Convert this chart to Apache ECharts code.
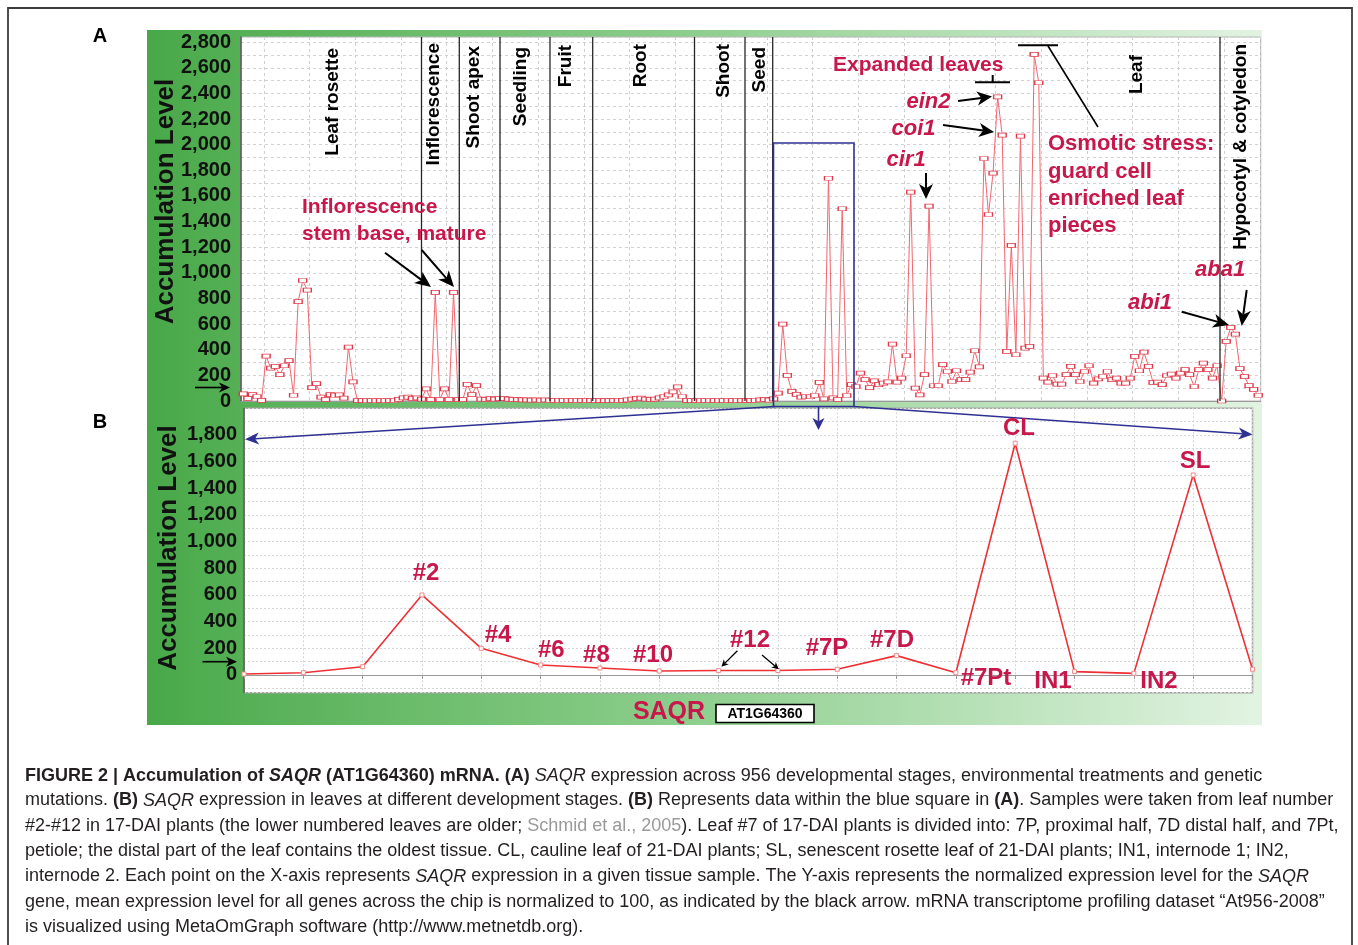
<!DOCTYPE html>
<html><head><meta charset="utf-8">
<script src="https://cdn.jsdelivr.net/npm/echarts@6/dist/echarts.min.js"></script>
<style>html,body{margin:0;padding:0;background:#fff;}#c{width:1358px;height:945px;}</style>
</head><body><div id="c"></div>
<script>
// ---- Panel A: expression across tissue samples ----
const levelsA = [
 55,20,50,35,5,350,256,270,205,275,315,45,775,940,865,105,135,30,12,50,
 45,48,22,420,150,3,3,2,3,2,3,2,3,4,12,25,30,20,25,15,
 95,12,848,10,95,12,848,10,10,130,50,120,15,12,18,15,18,20,15,12,
 10,8,8,7,8,6,8,6,5,4,5,4,5,4,5,4,5,3,3,3,
 3,3,4,5,8,15,20,22,15,12,15,25,35,48,72,110,35,5,3,3,
 4,3,4,3,4,3,4,3,4,3,5,5,6,8,12,7,17,62,600,200,
 75,52,30,33,33,43,145,17,1738,25,12,1500,43,127,113,217,166,105,157,127,
 139,150,444,147,178,353,1629,100,48,205,1520,119,119,283,230,152,236,166,166,225,
 392,267,1892,1455,1778,2373,2075,387,1215,361,2066,412,426,2705,2483,178,147,199,131,131,
 205,270,205,152,230,275,139,173,191,230,166,178,139,139,178,348,236,381,270,145,
 147,127,199,209,178,217,244,205,113,244,295,244,178,275,0,465,574,522,252,190,
 120,90,45
];
const samplesA = levelsA.map((_, i) => 'S' + (i + 1));
const tissueGroups = ['Leaf rosette','Inflorescence','Shoot apex','Seedling','Fruit','Root','Shoot','Seed','Leaf','Hypocotyl & cotyledon'];
const yTicksA = [0,200,400,600,800,1000,1200,1400,1600,1800,2000,2200,2400,2600,2800];

// ---- Panel B: leaves inside the blue square ----
const samplesB = ['s1','s2','s3','#2','#4','#6','#8','#10','#12a','#12b','#7P','#7D','#7Pt','CL','IN1','IN2','SL','s18'];
const levelsB = [7,17,62,600,200,75,52,30,33,33,43,145,17,1738,25,12,1500,43];
const yTicksB = [0,200,400,600,800,1000,1200,1400,1600,1800];

const FF = '"Liberation Sans", Arial, Helvetica, sans-serif';
const RED = '#c8174a';
const BLUE = '#2e3192';

function txt(x, y, text, font, fill, align, extra) {
  return Object.assign({type:'text', x:x, y:y, z:100, silent:true,
    style:{text:text, font:font, fill:fill||'#000', align:align||'left', verticalAlign:'middle'}}, extra||{});
}
function seg(x1,y1,x2,y2,color,w){
  return {type:'line', z:100, silent:true, shape:{x1:x1,y1:y1,x2:x2,y2:y2}, style:{stroke:color, lineWidth:w}};
}
function arrow(x1,y1,x2,y2,color,w,hl,hw){
  const dx=x2-x1, dy=y2-y1, L=Math.hypot(dx,dy), ux=dx/L, uy=dy/L;
  const bx=x2-ux*hl, by=y2-uy*hl, px=-uy, py=ux;
  const nx=x2-ux*hl*0.72, ny=y2-uy*hl*0.72;
  return [
    seg(x1,y1,nx,ny,color,w),
    {type:'polygon', z:100, silent:true, shape:{points:[[x2,y2],[bx+px*hw,by+py*hw],[nx,ny],[bx-px*hw,by-py*hw]]}, style:{fill:color}}
  ];
}

const els = [];
// page frame
els.push({type:'rect', z:-20, silent:true, shape:{x:8,y:8,width:1344,height:945}, style:{fill:'#fff', stroke:'#3c3c3c', lineWidth:1.8}});
// green backdrop
els.push({type:'rect', z:-10, silent:true, shape:{x:147,y:30,width:1115,height:695},
  style:{fill:new echarts.graphic.LinearGradient(0,0,1,0,[{offset:0,color:'#48a848'},{offset:0.1,color:'#58b158'},{offset:0.5,color:'#8fcf8f'},{offset:1,color:'#e2f3e2'}])}});
// panel letters
els.push(txt(100,36,'A','bold 20px '+FF,'#000','center'));
els.push(txt(100,422,'B','bold 20px '+FF,'#000','center'));
// y axis titles
els.push(txt(166,201.5,'Accumulation Level','bold 26px '+FF,'#111','center',{rotation:Math.PI/2}));
els.push(txt(168.5,548,'Accumulation Level','bold 26px '+FF,'#111','center',{rotation:Math.PI/2}));
// tissue dividers
[421.5,459.3,500,550,592.7,694.5,745,772.7,1220].forEach(x=>els.push(seg(x,37,x,401,'#262626',1.3)));
// tissue labels (rotated)
const groupPos = [[332.5,48],[434,43],[474,46],[520.5,47],[566,45],[641,44],[723.5,44],[759.5,47],[1137,55],[1241,44]];
tissueGroups.forEach((g,i)=>els.push(txt(groupPos[i][0],groupPos[i][1],g,'bold 19px '+FF,'#000','right',{rotation:Math.PI/2})));
// panel A annotations
const fA = 'bold 21px '+FF, fI = 'italic bold 22px '+FF;
els.push(txt(302,207.7,'Inflorescence',fA,RED));
els.push(txt(302,234.3,'stem base, mature',fA,RED));
els.push(txt(833,65,'Expanded leaves',fA,RED));
els.push(txt(906.5,102,'ein2',fI,RED));
els.push(txt(891.5,129,'coi1',fI,RED));
els.push(txt(886.5,160,'cir1',fI,RED));
els.push(txt(1048,143.5,'Osmotic stress:','bold 22px '+FF,RED));
els.push(txt(1048,171.5,'guard cell','bold 22px '+FF,RED));
els.push(txt(1048,198.5,'enriched leaf','bold 22px '+FF,RED));
els.push(txt(1048,225.5,'pieces','bold 22px '+FF,RED));
els.push(txt(1195,270,'aba1',fI,RED));
els.push(txt(1128,302.5,'abi1',fI,RED));
els.push(...arrow(385,252.7,431,287,'#000',2,16,7));
els.push(...arrow(421.7,250,454,287,'#000',2,16,7));
els.push(...arrow(958,101,992,96.5,'#000',2,15,7));
els.push(...arrow(943,125,994,132,'#000',2,15,7));
els.push(...arrow(926,173,926,199,'#000',2,15,7));
els.push(...arrow(1181.7,311.7,1229,325,'#000',2,16,7));
els.push(...arrow(1246.7,290,1241.7,326,'#000',2,16,7));
els.push(seg(975,82.3,1010,82.3,'#000',2));
els.push(seg(992.7,75,992.7,82.3,'#000',2));
els.push(seg(1018,45.3,1058,45.3,'#000',2));
els.push(seg(1048,46,1098,127,'#000',1.6));
// mean-level arrows (value 100)
els.push(...arrow(195,387.5,230,387.5,'#000',1.6,11,5));
els.push(...arrow(202.5,661.7,237,661.7,'#000',1.6,11,5));
// blue square and connectors
els.push({type:'rect', z:100, silent:true, shape:{x:773.5,y:143,width:80.5,height:263.5}, style:{fill:null, stroke:BLUE, lineWidth:1.6}});
els.push(...arrow(775,406.5,245,439.3,BLUE,1.6,14,6));
els.push(...arrow(854,406.5,1252.5,434.5,BLUE,1.6,14,6));
els.push(...arrow(818.5,406.5,818.5,430,BLUE,1.6,12,6));
// panel B annotations
const fB = 'bold 24px '+FF;
[['#2',426,573.3],['#4',498,635],['#6',551.3,650.7],['#8',596.4,655],['#10',653,655],['#12',750,640],
 ['#7P',827,648.3],['#7D',892,640],['CL',1019,428.3],['SL',1195,461],['#7Pt',986,678.3],['IN1',1053,681.7],['IN2',1159,681.7]]
 .forEach(a=>els.push(txt(a[1],a[2],a[0],fB,RED,'center')));
els.push(...arrow(737.4,650.7,721.4,666.7,'#000',1.3,7,3.5));
els.push(...arrow(762,655,778.8,669.3,'#000',1.3,7,3.5));
// x-axis title panel B
els.push(txt(669,712,'SAQR','bold 25px '+FF,RED,'center'));
els.push({type:'rect', z:100, silent:true, shape:{x:716,y:704.5,width:98,height:18}, style:{fill:'#fff', stroke:'#000', lineWidth:1.6}});
els.push(txt(765,714,'AT1G64360','bold 14px '+FF,'#000','center'));
// caption
const cf = 18;
const rich = {
  n:{fontSize:cf, fontFamily:FF, fill:'#231f20'},
  b:{fontSize:cf, fontFamily:FF, fontWeight:'bold', fill:'#231f20'},
  bi:{fontSize:cf, fontFamily:FF, fontWeight:'bold', fontStyle:'italic', fill:'#231f20'},
  i:{fontSize:cf, fontFamily:FF, fontStyle:'italic', fill:'#231f20'},
  g:{fontSize:cf, fontFamily:FF, fill:'#9a9a9a'}
};
const captionLines = [
 '{b|FIGURE 2 | Accumulation of }{bi|SAQR}{b| (AT1G64360) mRNA. (A) }{i|SAQR}{n| expression across 956 developmental stages, environmental treatments and genetic}',
 '{n|mutations. }{b|(B) }{i|SAQR}{n| expression in leaves at different development stages. }{b|(B)}{n| Represents data within the blue square in }{b|(A)}{n|. Samples were taken from leaf number}',
 '{n|#2-#12 in 17-DAI plants (the lower numbered leaves are older; }{g|Schmid et al., 2005}{n|). Leaf #7 of 17-DAI plants is divided into: 7P, proximal half, 7D distal half, and 7Pt,}',
 '{n|petiole; the distal part of the leaf contains the oldest tissue. CL, cauline leaf of 21-DAI plants; SL, senescent rosette leaf of 21-DAI plants; IN1, internode 1; IN2,}',
 '{n|internode 2. Each point on the X-axis represents }{i|SAQR}{n| expression in a given tissue sample. The Y-axis represents the normalized expression level for the }{i|SAQR}',
 '{n|gene, mean expression level for all genes across the chip is normalized to 100, as indicated by the black arrow. mRNA transcriptome profiling dataset \u201cAt956-2008\u201d}',
 '{n|is visualized using MetaOmGraph software (http://www.metnetdb.org).}'
];
const capY = [775.7,800.5,825.7,851,876.5,901.7,926.7];
captionLines.forEach((l,k)=>els.push({type:'text', x:25, y:capY[k], z:100, silent:true,
  style:{text:l, rich:rich, fontSize:cf, fontFamily:FF, fill:'#231f20', align:'left', verticalAlign:'middle'}}));

const axisFont = {fontSize:20, fontWeight:'bold', color:'#111', fontFamily:FF};
const chart = echarts.init(document.getElementById('c'), null, {renderer:'canvas', width:1358, height:945});
chart.setOption({
  animation:false,
  backgroundColor:'#fff',
  grid:[
    {left:241, top:37, width:1019.5, height:364, show:true, backgroundColor:'#fff', borderColor:'#b8b8b8', borderWidth:1},
    {left:244, top:408.3, width:1008.5, height:284.4, show:true, backgroundColor:'#fff', borderColor:'#a5a5a5', borderWidth:1.5}
  ],
  xAxis:[
    {gridIndex:0, type:'category', data:samplesA, boundaryGap:true,
     axisLine:{show:true, lineStyle:{color:'#999'}}, axisTick:{show:false}, axisLabel:{show:false},
     splitLine:{show:true, interval:(i)=>i%10===5, lineStyle:{color:'#cfcfcf', type:[3,3], width:1}}},
    {gridIndex:1, type:'category', data:samplesB, boundaryGap:false,
     axisLine:{show:true, lineStyle:{color:'#999'}}, axisTick:{show:true, interval:0, length:4, lineStyle:{color:'#999'}}, axisLabel:{show:false},
     splitLine:{show:true, interval:0, lineStyle:{color:'#d6d6d6', type:[2,2], width:1}}}
  ],
  yAxis:[
    {gridIndex:0, type:'value', min:0, max:2840, interval:100,
     axisLine:{show:true, lineStyle:{color:'#555', width:1.5}}, axisTick:{show:false},
     axisLabel:Object.assign({margin:10, formatter:v=>yTicksA.indexOf(v)>=0 ? v.toLocaleString('en-US') : ''}, axisFont),
     splitLine:{show:true, lineStyle:{color:'#d2d2d2', type:[3,3], width:1}}},
    {gridIndex:1, type:'value', min:-133, max:2000, minInterval:100, maxInterval:100, splitNumber:21,
     axisLine:{show:true, lineStyle:{color:'#555', width:1.5}}, axisTick:{show:false},
     axisLabel:Object.assign({margin:7, formatter:v=>yTicksB.indexOf(v)>=0 ? v.toLocaleString('en-US') : ''}, axisFont),
     splitLine:{show:true, lineStyle:{color:'#d6d6d6', type:[2,2], width:1}}}
  ],
  series:[
    {type:'line', xAxisIndex:0, yAxisIndex:0, data:levelsA, symbol:'rect', symbolSize:[8,4], showAllSymbol:true,
     lineStyle:{color:'#f26670', width:1}, itemStyle:{color:'#fff', borderColor:'#e03a4a', borderWidth:1}, z:3},
    {type:'line', xAxisIndex:1, yAxisIndex:1, data:levelsB, symbol:'rect', symbolSize:4, showAllSymbol:true,
     lineStyle:{color:'#ee3035', width:1.6}, itemStyle:{color:'#fff', borderColor:'#f08a8c', borderWidth:1}, z:3}
  ],
  graphic:{elements:els}
});
</script>
</body></html>
